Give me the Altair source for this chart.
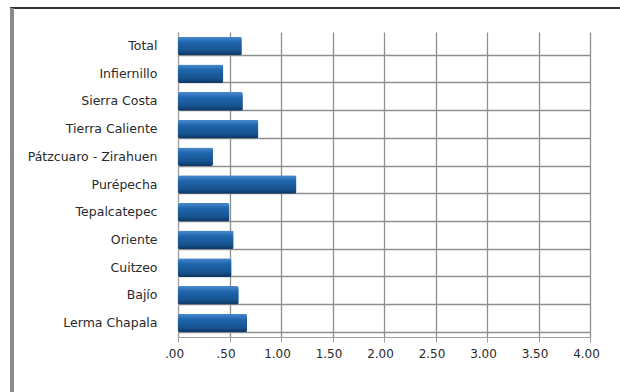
import altair as alt
import pandas as pd

categories = ["Total", "Infiernillo", "Sierra Costa", "Tierra Caliente",
              "Pátzcuaro - Zirahuen", "Purépecha", "Tepalcatepec", "Oriente",
              "Cuitzeo", "Bajío", "Lerma Chapala"]
values = [0.62, 0.44, 0.63, 0.78, 0.34, 1.15, 0.50, 0.54, 0.52, 0.59, 0.67]
tick_values = [0, 0.5, 1, 1.5, 2, 2.5, 3, 3.5, 4]

df = pd.DataFrame({"region": categories, "value": values})

font = "DejaVu Sans"
grad = alt.Gradient(
    gradient="linear",
    stops=[
        alt.GradientStop(color="#4a8bd0", offset=0),
        alt.GradientStop(color="#1f66ad", offset=0.3),
        alt.GradientStop(color="#17538f", offset=0.75),
        alt.GradientStop(color="#0d3563", offset=1),
    ],
    x1=0, x2=0, y1=0, y2=1,
)

xscale = alt.Scale(domain=[0, 4])
yscale = alt.Scale(paddingInner=0.33, paddingOuter=0.17)

xaxis = alt.Axis(values=tick_values,
                 labelExpr="datum.value < 1 ? substring(format(datum.value, '.2f'), 1) : format(datum.value, '.2f')",
                 title=None, grid=True, gridColor="#8f8f8f", gridWidth=1.3,
                 domainColor="#a0a0a0", tickColor="#a0a0a0", tickSize=5,
                 labelFlush=False, labelOffset=-4,
                 labelPadding=6, labelFont=font, labelFontSize=12,
                 labelColor="#2a2a2a")

gridlayer = alt.Chart(df).mark_bar(opacity=0).encode(
    x=alt.X("value:Q", scale=xscale, axis=xaxis),
    y=alt.Y("region:N", sort=categories, scale=yscale,
            axis=alt.Axis(title=None, labels=False, ticks=False, domain=False,
                          grid=True, bandPosition=1, gridColor="#8f8f8f",
                          gridWidth=1.3, orient="right")),
)

bars = alt.Chart(df).mark_bar(color=grad, cornerRadius=2).encode(
    x=alt.X("value:Q", scale=xscale, axis=xaxis),
    y=alt.Y("region:N", sort=categories, scale=yscale,
            axis=alt.Axis(title=None, ticks=False, domain=True, domainColor="#a0a0a0",
                          grid=False, labelPadding=21, labelFont=font,
                          labelFontSize=12.5, labelColor="#2a2a2a")),
)

frame_top = alt.Chart(df).mark_rule(color="#333333", strokeWidth=2).encode(
    x=alt.value(-168), x2=alt.value(442), y=alt.value(-24))
frame_left = alt.Chart(df).mark_rule(color="#8a8a8a", strokeWidth=4).encode(
    x=alt.value(-166), y=alt.value(-24), y2=alt.value(360))

chart = alt.layer(gridlayer, bars, frame_top, frame_left).resolve_axis(
    y="independent"
).properties(
    width=412, height=305,
    autosize=alt.AutoSizeParams(type="none"),
    padding={"left": 178, "top": 32, "right": 30, "bottom": 55},
    background="white",
).configure_view(stroke=None)

chart.save("out.html", embed_options={"renderer": "svg", "actions": False})
